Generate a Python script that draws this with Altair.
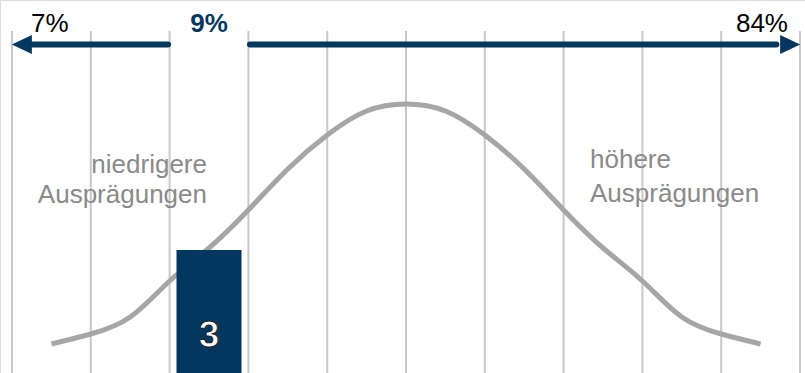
import altair as alt
import pandas as pd

# ---- data ----
grid_x = [0, 1, 2, 3, 4, 5, 6, 7, 8, 9, 10]
curve_x = [0.5, 1.0, 1.5, 2.0, 2.5, 3.0, 3.5, 4.0, 4.5, 5.0,
           5.5, 6.0, 6.5, 7.0, 7.5, 8.0, 8.5, 9.0, 9.5]
curve_y = [29, 39, 56, 92, 125, 163, 204, 238, 262, 269,
           262, 238, 204, 163, 125, 92, 56, 39, 29]
bar_x = [2.5]
bar_y = [123]
bar_label = ["3"]
pct_labels = ["7%", "9%", "84%"]
left_label = ["niedrigere", "Ausprägungen"]
right_label = ["höhere", "Ausprägungen"]

NAVY = "#03375f"
FONT = "Liberation Sans"
XDOM = [-0.1523, 10.0634]
YDOM = [0, 373]

xs = alt.Scale(domain=XDOM, nice=False, zero=False, padding=0)
ys = alt.Scale(domain=YDOM, nice=False, zero=False, padding=0)

one = pd.DataFrame({"k": [0]})

grid = alt.Chart(pd.DataFrame({"x": grid_x})).mark_rule(
    color="#c8c8c8", strokeWidth=2
).encode(
    x=alt.X("x:Q", scale=xs, axis=None),
    y=alt.value(31), y2=alt.value(373),
)

curve = alt.Chart(pd.DataFrame({"x": curve_x, "y": curve_y})).mark_line(
    color="#a6a6a6", strokeWidth=5, interpolate="natural"
).encode(
    x=alt.X("x:Q", scale=xs, axis=None),
    y=alt.Y("y:Q", scale=ys, axis=None),
)

bar = alt.Chart(pd.DataFrame({"x": bar_x, "y": bar_y})).mark_bar(
    color=NAVY, size=65
).encode(
    x=alt.X("x:Q", scale=xs, axis=None),
    y=alt.Y("y:Q", scale=ys, axis=None),
)

bar_text = alt.Chart(pd.DataFrame({"x": bar_x, "t": bar_label})).mark_text(
    font=FONT, fontSize=37, color="white", stroke="#1a1a1a", strokeWidth=1,
    fontWeight="bold", baseline="alphabetic", align="center"
).encode(
    x=alt.X("x:Q", scale=xs, axis=None),
    y=alt.value(347),
    text="t:N",
)

line_l = alt.Chart(one).mark_rule(
    color=NAVY, strokeWidth=6, strokeCap="round"
).encode(
    x=alt.datum(0.25, scale=xs), x2=alt.datum(1.98), y=alt.value(44.5)
)
line_r = alt.Chart(one).mark_rule(
    color=NAVY, strokeWidth=6, strokeCap="round"
).encode(
    x=alt.datum(3.02, scale=xs), x2=alt.datum(9.7), y=alt.value(44.5)
)
head_l = alt.Chart(one).mark_point(
    shape="M1,-0.95L-1,0L1,0.95Z", filled=True, size=400, color=NAVY, opacity=1
).encode(x=alt.datum(0.125, scale=xs), y=alt.value(44.5))
head_r = alt.Chart(one).mark_point(
    shape="M-1,-0.95L1,0L-1,0.95Z", filled=True, size=400, color=NAVY, opacity=1
).encode(x=alt.datum(9.875, scale=xs), y=alt.value(44.5))

def label(text, x, y, align, color="#000000", weight="normal", size=26, lh=30):
    return alt.Chart(one).mark_text(
        text=text, font=FONT, fontSize=size, color=color, fontWeight=weight,
        align=align, baseline="alphabetic", lineHeight=lh
    ).encode(x=alt.value(x), y=alt.value(y))

t7 = label(pct_labels[0], 31, 32, "left")
t9 = label(pct_labels[1], 209, 32, "center", color=NAVY, weight="bold")
t84 = label(pct_labels[2], 788, 32, "right")
tl = label(left_label, 207, 173, "right", color="#8a8a8a", lh=30)
tr = label(right_label, 590, 168, "left", color="#8a8a8a", lh=33.5)

chart = alt.layer(
    grid, curve, bar, bar_text, line_l, line_r, head_l, head_r,
    t7, t9, t84, tl, tr
).properties(
    width=805, height=373, padding=0, autosize=alt.AutoSizeParams(type="none")
).configure_view(strokeWidth=0).configure(background="white")

chart.save("out.html", embed_options={"renderer": "svg", "actions": False})
